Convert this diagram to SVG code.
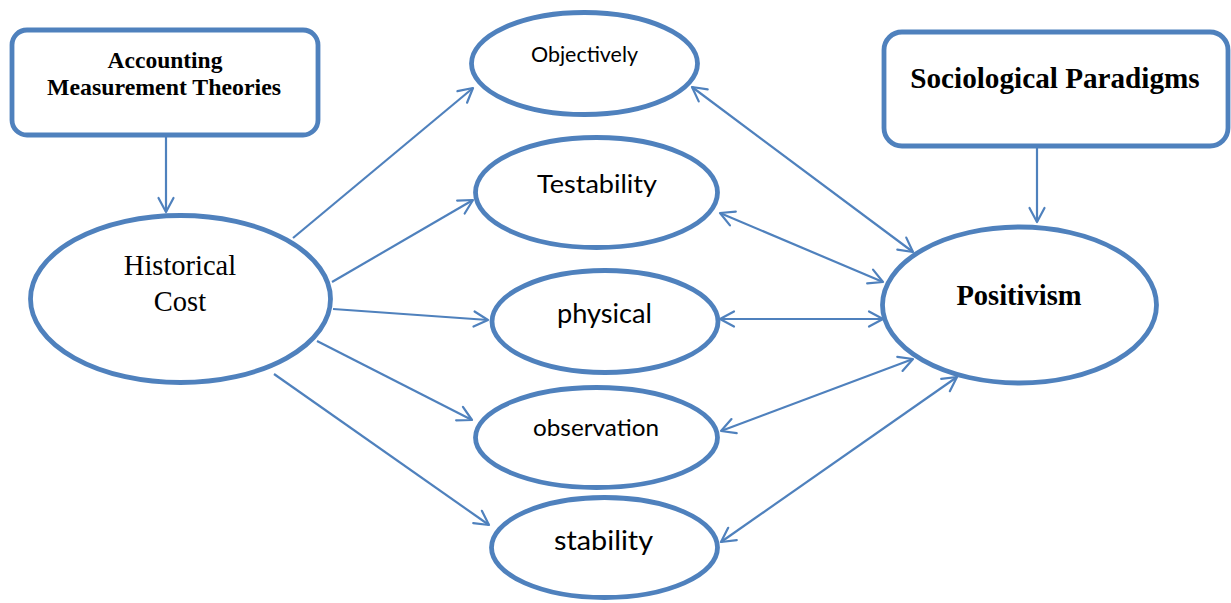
<svg xmlns="http://www.w3.org/2000/svg" width="1231" height="603" viewBox="0 0 1231 603">
<style>
.node{fill:#fff;stroke:#4F81BD;stroke-width:4.8}
.edge{fill:none;stroke:#4F81BD;stroke-width:2.2}
.serifB{font-family:"Liberation Serif","Times New Roman",serif;font-weight:bold;fill:#000;text-anchor:middle}
.serif{font-family:"Liberation Serif","Times New Roman",serif;fill:#000;text-anchor:middle}
.sans{font-family:Lato,"Open Sans",sans-serif;fill:#000;text-anchor:middle}
</style>
<defs>
<marker id="ah" viewBox="-17 -10 20 20" refX="0" refY="0" markerWidth="20" markerHeight="20" markerUnits="userSpaceOnUse" orient="auto-start-reverse">
<path d="M-14,-7.5 L0,0 L-14,7.5" fill="none" stroke="#4F81BD" stroke-width="2.2" stroke-linejoin="round" stroke-linecap="round"/>
</marker>
</defs>
<rect width="1231" height="603" fill="#fff"/>
<g id="connectors">
<line class="edge" x1="166" y1="137" x2="166" y2="212" marker-end="url(#ah)"/>
<line class="edge" x1="1037" y1="148" x2="1037" y2="222" marker-end="url(#ah)"/>
<line class="edge" x1="293" y1="238" x2="473" y2="88" marker-end="url(#ah)"/>
<line class="edge" x1="332" y1="282" x2="473" y2="200" marker-end="url(#ah)"/>
<line class="edge" x1="333" y1="309" x2="488" y2="320" marker-end="url(#ah)"/>
<line class="edge" x1="317" y1="341" x2="472" y2="420" marker-end="url(#ah)"/>
<line class="edge" x1="274" y1="374" x2="489" y2="525" marker-end="url(#ah)"/>
<line class="edge" x1="692" y1="87" x2="913" y2="252" marker-start="url(#ah)" marker-end="url(#ah)"/>
<line class="edge" x1="720" y1="213" x2="883" y2="282" marker-start="url(#ah)" marker-end="url(#ah)"/>
<line class="edge" x1="720" y1="319" x2="883" y2="319" marker-start="url(#ah)" marker-end="url(#ah)"/>
<line class="edge" x1="721" y1="431" x2="913" y2="359" marker-start="url(#ah)" marker-end="url(#ah)"/>
<line class="edge" x1="721" y1="542" x2="957" y2="377" marker-start="url(#ah)" marker-end="url(#ah)"/>
</g>
<g id="accounting">
<rect class="node" x="12" y="30" width="306" height="105" rx="15"/>
<text class="serifB" x="165" y="68" font-size="23.5">Accounting</text>
<text class="serifB" x="164" y="95" font-size="23.5" textLength="234" lengthAdjust="spacingAndGlyphs">Measurement Theories</text>
</g>
<g id="sociological">
<rect class="node" x="884" y="32" width="344" height="114" rx="18"/>
<text class="serifB" x="1055" y="88" font-size="29.2">Sociological Paradigms</text>
</g>
<g id="historical">
<ellipse class="node" cx="180.5" cy="299" rx="150" ry="83.5"/>
<text class="serif" x="180" y="275" font-size="28.5">Historical</text>
<text class="serif" x="180" y="311" font-size="28.5">Cost</text>
</g>
<g id="objectively">
<ellipse class="node" cx="584.5" cy="63.5" rx="113" ry="51"/>
<text class="sans" x="584.5" y="62" font-size="21" textLength="107" lengthAdjust="spacingAndGlyphs">Objectively</text>
</g>
<g id="testability">
<ellipse class="node" cx="596.5" cy="192.5" rx="121" ry="55"/>
<text class="sans" x="597" y="193" font-size="25.5" textLength="120" lengthAdjust="spacingAndGlyphs">Testability</text>
</g>
<g id="physical">
<ellipse class="node" cx="605" cy="321.5" rx="113" ry="51"/>
<text class="sans" x="604.5" y="323" font-size="26" textLength="95" lengthAdjust="spacingAndGlyphs">physical</text>
</g>
<g id="observation">
<ellipse class="node" cx="596.5" cy="437.5" rx="121" ry="50"/>
<text class="sans" x="596" y="436" font-size="23.5" textLength="126" lengthAdjust="spacingAndGlyphs">observation</text>
</g>
<g id="stability">
<ellipse class="node" cx="604.5" cy="547.5" rx="113" ry="50"/>
<text class="sans" x="603.5" y="550" font-size="27.5" textLength="99" lengthAdjust="spacingAndGlyphs">stability</text>
</g>
<g id="positivism">
<ellipse class="node" cx="1019.5" cy="305" rx="137" ry="78"/>
<text class="serifB" x="1019" y="305" font-size="28.5">Positivism</text>
</g>
</svg>
